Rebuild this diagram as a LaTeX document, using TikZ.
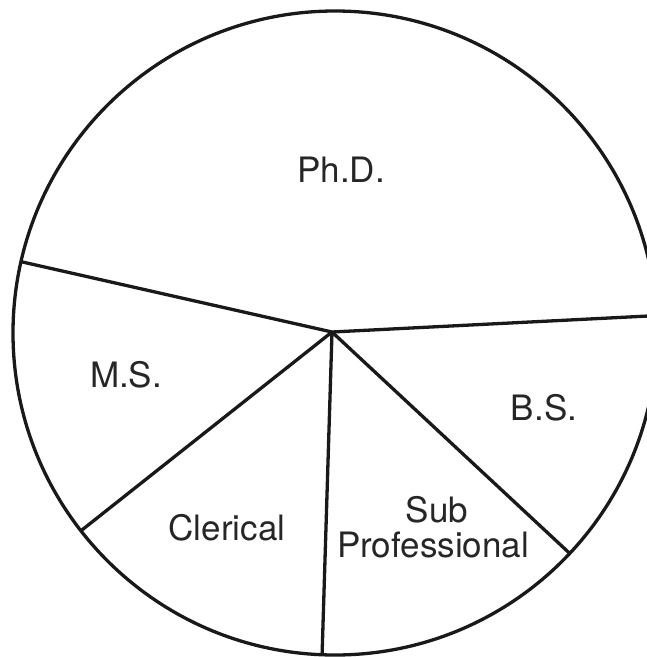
\documentclass[tikz,border=0pt]{standalone}
\usepackage{fontspec}
\setmainfont{TeX Gyre Heros}
\usetikzlibrary{calc}
\begin{document}
\begin{tikzpicture}[x=1pt,y=1pt,
  edge/.style={line width=3.3pt,draw=black!90},
  lbl/.style={anchor=base,inner sep=0pt,font=\fontsize{35}{40}\selectfont,text=black!85}]
\useasboundingbox (0,0) rectangle (647,-657);
\clip (0,0) rectangle (647,-657);
\coordinate (C) at (335,-333);
\coordinate (H) at (332,-332);
\coordinate (pL) at ($(C)+(167.2:322)$);
\coordinate (pR) at ($(C)+(3.1:322)$);
\coordinate (pLL) at ($(C)+(217.9:322)$);
\coordinate (pD) at ($(C)+(267.7:322)$);
\coordinate (pLR) at ($(C)+(316.8:322)$);
\draw[edge] (C) circle (322);
\draw[edge] (H) -- (pL);
\draw[edge] (H) -- (pR);
\draw[edge] (H) -- (pLL);
\draw[edge] (H) -- (pD);
\draw[edge] (H) -- (pLR);
\node[lbl] (phd) at (341,-182) {Ph.D.};
\node[lbl] (ms) at (126,-387) {M.S.};
\node[lbl] (bs) at (544,-420) {B.S.};
\node[lbl] (cler) at (227,-540) {Clerical};
\node[lbl] (sub) at (437,-522) {Sub};
\node[lbl] (prof) at (433,-557) {Professional};
\end{tikzpicture}
\end{document}
